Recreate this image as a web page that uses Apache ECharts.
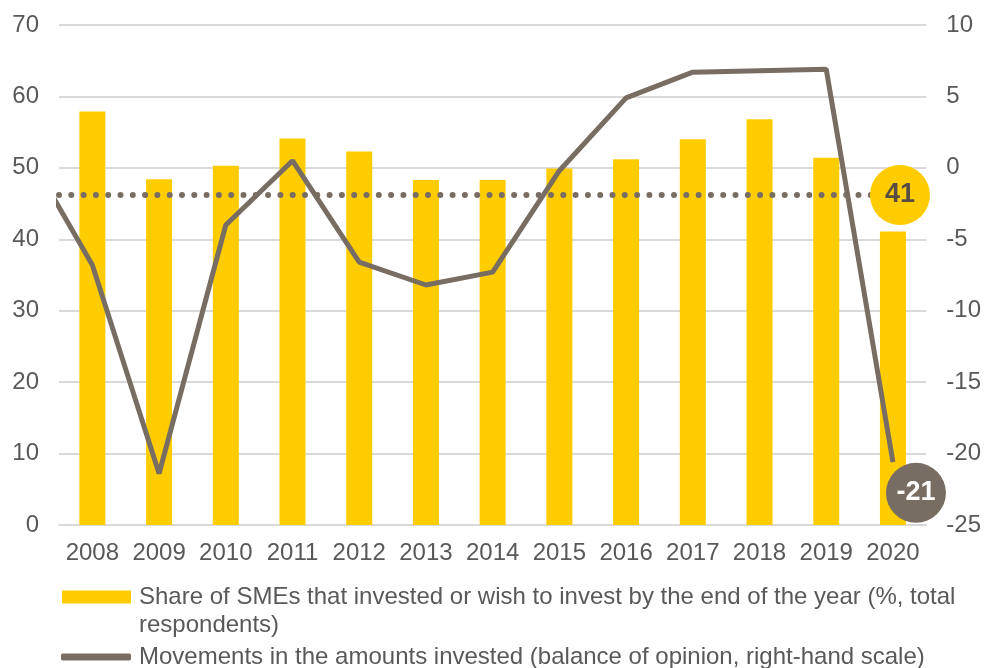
<!DOCTYPE html>
<html>
<head>
<meta charset="utf-8">
<script src="https://cdn.jsdelivr.net/npm/echarts@6/dist/echarts.min.js"></script>
<style>
    html, body { margin: 0; padding: 0; background: #fff; }
    #chart { width: 984px; height: 668px; }
</style>
</head>
<body>
<div id="chart"></div>
<script>
const years = ['2008', '2009', '2010', '2011', '2012', '2013', '2014', '2015', '2016', '2017', '2018', '2019', '2020'];
const shareInvested = [57.9, 48.4, 50.3, 54.1, 52.3, 48.3, 48.3, 49.9, 51.2, 54.0, 56.8, 51.4, 41.1];
const amountsBalance = [-6.8, -21.4, -4.0, 0.5, -6.6, -8.2, -7.3, -0.2, 4.9, 6.7, 6.8, 6.9, -20.6];
const balance2007 = 1.3; // point before 2008, only its segment shows at the left edge
const dottedLevel = 46.2;

const barName = 'Share of SMEs that invested or wish to invest by the end of the year (%, total respondents)';
const lineName = 'Movements in the amounts invested (balance of opinion, right-hand scale)';

const yellow = '#FFCC00';
const taupe = '#786D63';
const labelColor = '#595959';
const font = '"Liberation Sans", Arial, sans-serif';

const chart = echarts.init(document.getElementById('chart'));

// line drawn on a hidden value x axis so the 2007 segment can be clipped at the plot edge
const lineData = [[-1, balance2007]].concat(amountsBalance.map((v, i) => [i, v]));
const last = years.length - 1;
// left-axis level expressed on the right axis (0..70 -> -25..10)
const dottedOnRight = -25 + (dottedLevel / 70) * 35;

const legendRich = { t: { fontFamily: font, fontSize: 24, color: labelColor, lineHeight: 28, padding: [0, 0, 0, 3] } };

const option = {
    animation: false,
    grid: { left: 59, right: 57, top: 25, bottom: 143 },
    legend: [
        {
            data: [barName],
            left: 62,
            top: 555,
            padding: 0,
            itemWidth: 69,
            itemHeight: 13,
            icon: 'rect',
            // leading blank line keeps the first text line level with the swatch
            formatter: () => '\n{t|Share of SMEs that invested or wish to invest by the end of the year (%, total}\n{t|respondents)}',
            textStyle: { fontFamily: font, fontSize: 24, color: labelColor, lineHeight: 28, rich: legendRich }
        },
        {
            data: [lineName],
            left: 61,
            top: 643,
            padding: 0,
            itemWidth: 70,
            itemHeight: 7,
            icon: 'roundRect',
            itemStyle: { color: taupe },
            formatter: (name) => '{t|' + name + '}',
            textStyle: { fontFamily: font, fontSize: 24, color: labelColor, lineHeight: 28, rich: legendRich }
        }
    ],
    xAxis: [
        {
            type: 'category',
            data: years,
            axisLine: { lineStyle: { color: '#D9D9D9', width: 2 } },
            axisTick: { show: false },
            axisLabel: { fontFamily: font, fontSize: 24, color: labelColor, margin: 16, interval: 0 }
        },
        {
            type: 'value',
            min: -0.5,
            max: 12.5,
            show: false
        }
    ],
    yAxis: [
        {
            type: 'value',
            min: 0,
            max: 70,
            interval: 10,
            axisLine: { show: false },
            axisTick: { show: false },
            axisLabel: { fontFamily: font, fontSize: 24, color: labelColor, margin: 20 },
            splitLine: { lineStyle: { color: '#D9D9D9', width: 2 } }
        },
        {
            type: 'value',
            min: -25,
            max: 10,
            interval: 5,
            axisLine: { show: false },
            axisTick: { show: false },
            axisLabel: { fontFamily: font, fontSize: 24, color: labelColor, margin: 20 },
            splitLine: { show: false }
        }
    ],
    series: [
        {
            name: barName,
            type: 'bar',
            data: shareInvested,
            barWidth: 26,
            itemStyle: { color: yellow },
            markLine: {
                silent: true,
                symbol: 'none',
                label: { show: false },
                lineStyle: { color: taupe, width: 6, type: [0, 12.3], cap: 'round' },
                data: [{ yAxis: dottedLevel }]
            }
        },
        {
            name: lineName,
            type: 'line',
            xAxisIndex: 1,
            yAxisIndex: 1,
            data: lineData,
            symbol: 'none',
            lineStyle: { color: taupe, width: 5 },
            itemStyle: { color: taupe },
            markPoint: {
                silent: true,
                data: [
                    {
                        coord: [last, dottedOnRight],
                        symbol: 'circle',
                        symbolSize: 60,
                        symbolOffset: [7, 0],
                        itemStyle: { color: yellow },
                        label: {
                            show: true,
                            formatter: () => String(Math.round(shareInvested[last])),
                            fontFamily: font,
                            fontSize: 27,
                            fontWeight: 'bold',
                            color: '#574D45'
                        }
                    },
                    {
                        coord: [last, -22.75],
                        symbol: 'circle',
                        symbolSize: 60,
                        symbolOffset: [23, 0],
                        itemStyle: { color: taupe },
                        label: {
                            show: true,
                            formatter: () => String(Math.round(amountsBalance[last])),
                            fontFamily: font,
                            fontSize: 27,
                            fontWeight: 'bold',
                            color: '#FFFFFF'
                        }
                    }
                ]
            }
        }
    ]
};

chart.setOption(option);
</script>
</body>
</html>
